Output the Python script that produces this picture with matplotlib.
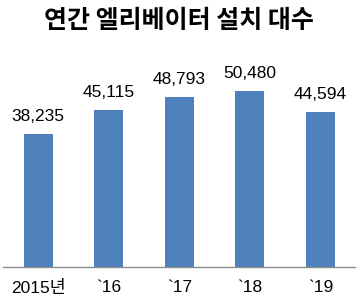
import matplotlib
matplotlib.use("Agg")
import matplotlib.pyplot as plt

# 연간 엘리베이터 설치 대수
years = ["2015년", "`16", "`17", "`18", "`19"]
counts = [38235, 45115, 48793, 50480, 44594]

BAR = "#4f81bd"
num_font = ["Liberation Sans", "Noto Sans CJK KR", "DejaVu Sans"]

fig = plt.figure(figsize=(3.58, 3.07), dpi=100)
ax = fig.add_axes([3 / 358, 40 / 307, 352 / 358, 209 / 307])

x = list(range(len(counts)))
ax.bar(x, counts, width=0.41, color=BAR, zorder=2)
ax.set_xlim(-0.5, 4.49)
ax.set_ylim(0, 60000)

for i, v in zip(x, counts):
    ax.annotate(f"{v:,}", (i, v), xytext=(0, 7), textcoords="offset points",
                ha="center", va="bottom", fontsize=12.5, family=num_font)

for s in ["top", "right", "left"]:
    ax.spines[s].set_visible(False)
ax.spines["bottom"].set_color("#8c8c8c")
ax.spines["bottom"].set_linewidth(1.0)
ax.set_yticks([])
ax.set_xticks(x)
ax.set_xticklabels(years, fontsize=12.5, family=num_font)
ax.tick_params(axis="x", length=0, pad=9)

fig.text(0.5, 1 - 21 / 307, "연간 엘리베이터 설치 대수", ha="center", va="center",
         fontsize=18, fontweight="bold", family=["Noto Sans CJK KR", "DejaVu Sans"])

fig.savefig("out.png", dpi=100)
